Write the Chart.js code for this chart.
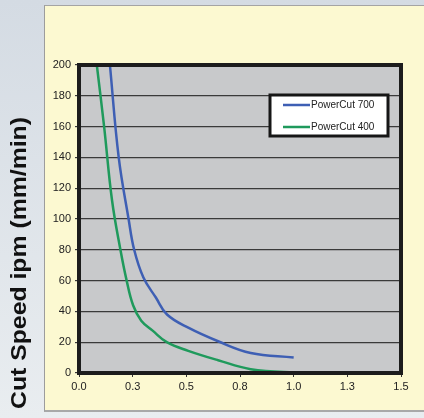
<!DOCTYPE html>
<html>
<head>
<meta charset="utf-8">
<script src="https://cdn.jsdelivr.net/npm/chart.js@4.4.1/dist/chart.umd.min.js"></script>
<style>
	html, body {
		margin: 0;
		padding: 0;
		width: 424px;
		height: 418px;
		overflow: hidden;
		background: linear-gradient(to bottom, #d4dbe3, #e9edf0);
	}
	#panel {
		position: absolute;
		left: 44px;
		top: 5px;
		width: 390px;
		height: 404px;
		background: #fcf9d1;
		border-left: 1px solid #9c9c9c;
		border-top: 1px solid #a4a4a4;
		border-bottom: 2px solid #a8a8a8;
	}
	#wrap {
		position: absolute;
		left: 0;
		top: 0;
		width: 424px;
		height: 418px;
	}
</style>
</head>
<body>
<div id="panel"></div>
<div id="wrap"><canvas id="canvas" width="424" height="418"></canvas></div>
<script>
const seriesNames = ['PowerCut 700', 'PowerCut 400'];
const seriesColors = ['#3e5fb4', '#1f9a5c'];

// thickness (x) and cut speed (y)
const pc700Thick = [0.144, 0.185, 0.231, 0.257, 0.30, 0.358, 0.41, 0.509, 0.648, 0.80, 1.0];
const pc700Speed = [200, 140, 100, 80, 62, 49, 38, 29.4, 20.6, 13, 10];

const pc400Thick = [0.083, 0.117, 0.154, 0.193, 0.222, 0.252, 0.29, 0.343, 0.409, 0.509, 0.648, 0.80, 1.0, 1.25];
const pc400Speed = [200, 160, 112, 80, 60, 44, 34, 27.5, 20, 14.4, 8.3, 2.5, 0.5, 0];

const xTicks = [0, 0.25, 0.5, 0.75, 1.0, 1.25, 1.5];
const yTitle = 'Cut Speed ipm (mm/min)';

const toPoints = (xs, ys) => xs.map((x, i) => ({ x: x, y: ys[i] }));

const plotFrame = {
	id: 'plotFrame',
	beforeDraw(chart) {
		const { ctx, chartArea: a } = chart;
		ctx.save();
		ctx.fillStyle = '#c8c9cb';
		ctx.fillRect(a.left, a.top, a.right - a.left, a.bottom - a.top);
		ctx.restore();
	},
	afterDatasetsDraw(chart) {
		const { ctx, chartArea: a } = chart;
		ctx.save();
		ctx.strokeStyle = '#1c1c1c';
		ctx.lineWidth = 4;
		ctx.strokeRect(a.left, a.top, a.right - a.left, a.bottom - a.top);

		// legend box inside the plot
		const bx = 270, by = 95, bw = 118, bh = 41;
		ctx.fillStyle = '#ffffff';
		ctx.fillRect(bx, by, bw, bh);
		ctx.lineWidth = 3;
		ctx.strokeStyle = '#161616';
		ctx.strokeRect(bx, by, bw, bh);
		ctx.font = '10px "Liberation Sans", Arial, sans-serif';
		ctx.textBaseline = 'middle';
		ctx.fillStyle = '#222';
		chart.data.datasets.forEach((ds, i) => {
			const y = by + 10 + i * 22;
			ctx.strokeStyle = ds.borderColor;
			ctx.lineWidth = 2.5;
			ctx.beginPath();
			ctx.moveTo(283, y);
			ctx.lineTo(310, y);
			ctx.stroke();
			ctx.fillText(ds.label, 311, y);
		});

		// y axis title, outside the panel
		ctx.font = 'bold 22px "Liberation Sans", Arial, sans-serif';
		ctx.fillStyle = '#111';
		ctx.textAlign = 'center';
		ctx.textBaseline = 'alphabetic';
		const w = ctx.measureText(yTitle).width;
		ctx.translate(26, 263);
		ctx.rotate(-Math.PI / 2);
		ctx.scale(292 / w, 1);
		ctx.fillText(yTitle, 0, 0);
		ctx.restore();
	}
};

new Chart(document.getElementById('canvas'), {
	type: 'line',
	data: {
		datasets: [
			{
				label: seriesNames[0],
				data: toPoints(pc700Thick, pc700Speed),
				borderColor: seriesColors[0],
			},
			{
				label: seriesNames[1],
				data: toPoints(pc400Thick, pc400Speed),
				borderColor: seriesColors[1],
			}
		]
	},
	options: {
		animation: false,
		responsive: false,
		events: [],
		layout: {
			padding: { left: 0, top: 65, right: 23, bottom: 0 }
		},
		plugins: {
			legend: { display: false },
			tooltip: { enabled: false }
		},
		elements: {
			point: { radius: 0 },
			line: {
				borderWidth: 2.5,
				tension: 0.4,
				fill: false
			}
		},
		scales: {
			x: {
				type: 'linear',
				min: 0,
				max: 1.5,
				afterFit(scale) { scale.height = 45; },
				afterBuildTicks(scale) { scale.ticks = xTicks.map(v => ({ value: v })); },
				border: { display: false },
				grid: {
					drawOnChartArea: false,
					drawTicks: true,
					tickLength: 4,
					color: '#333'
				},
				ticks: {
					padding: 3,
					maxRotation: 0,
					autoSkip: false,
					color: '#222',
					font: { family: '"Liberation Sans", Arial, sans-serif', size: 11 },
					callback: v => v.toFixed(1)
				}
			},
			y: {
				min: 0,
				max: 200,
				afterFit(scale) { scale.width = 79; },
				border: { display: false },
				grid: {
					color: '#3a3a3a',
					lineWidth: 1.2,
					tickLength: 4
				},
				ticks: {
					stepSize: 20,
					padding: 4,
					color: '#222',
					font: { family: '"Liberation Sans", Arial, sans-serif', size: 11 }
				}
			}
		}
	},
	plugins: [plotFrame]
});
</script>
</body>
</html>
